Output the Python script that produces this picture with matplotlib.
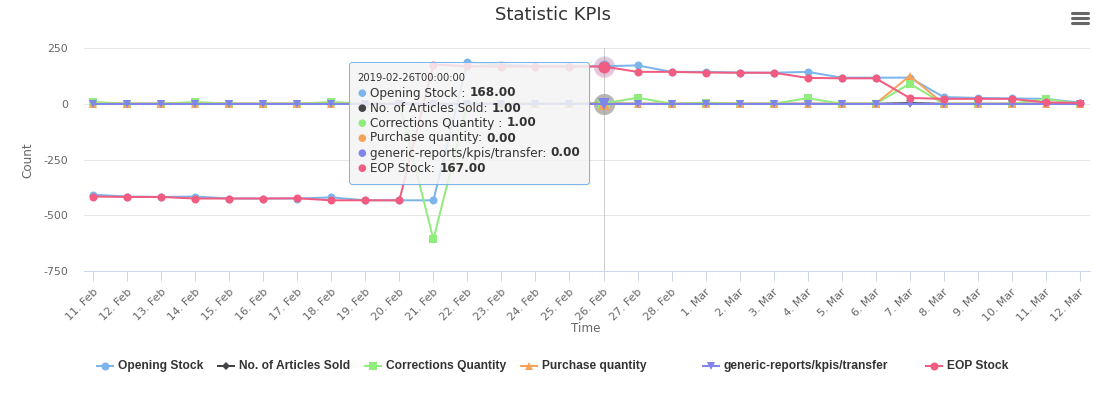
import matplotlib
matplotlib.use("Agg")
import matplotlib.pyplot as plt
from matplotlib.patches import FancyBboxPatch
from matplotlib.transforms import ScaledTranslation
import numpy as np

plt.rcParams['font.family'] = ['DejaVu Sans']
plt.rcParams['axes.unicode_minus'] = False

# ---------------- data ----------------
dates = ["11. Feb", "12. Feb", "13. Feb", "14. Feb", "15. Feb", "16. Feb", "17. Feb",
         "18. Feb", "19. Feb", "20. Feb", "21. Feb", "22. Feb", "23. Feb", "24. Feb",
         "25. Feb", "26. Feb", "27. Feb", "28. Feb", "1. Mar", "2. Mar", "3. Mar",
         "4. Mar", "5. Mar", "6. Mar", "7. Mar", "8. Mar", "9. Mar", "10. Mar",
         "11. Mar", "12. Mar"]

opening_stock = [-408, -416, -418, -416, -425, -425, -425, -420, -433, -433,
                 -433, 185, 176, 168, 168, 168, 172, 143, 143, 140,
                 139, 143, 117, 117, 117, 30, 26, 24, 22, 5]
articles_sold = [0, 0, 0, 0, 0, 0, 0, 0, 0, 0,
                 0, 0, 0, 0, 0, 1, 0, 0, 0, 0,
                 0, 0, 0, 0, 3, 0, 0, 0, 0, 0]
corrections = [8, 0, 0, 8, 0, 0, 0, 8, 0, 0,
               -608, 0, 0, 0, 0, 1, 27, 0, 5, 0,
               0, 25, 0, 0, 90, 0, 0, 0, 22, 0]
purchase = [0, 0, 0, 0, 0, 0, 0, 0, 0, 0,
            0, 0, 0, 0, 0, 0, 0, 0, 0, 0,
            0, 0, 0, 0, 125, 0, 0, 0, 0, 0]
transfer = [0] * 30
eop_stock = [-416, -418, -418, -425, -425, -425, -424, -433, -433, -433,
             176, 168, 167, 167, 167, 167, 143, 143, 140, 139,
             139, 116, 114, 114, 26, 22, 22, 22, 6, 4]

series_names = ["Opening Stock", "No. of Articles Sold", "Corrections Quantity",
                "Purchase quantity", "generic-reports/kpis/transfer", "EOP Stock"]
series_values = [opening_stock, articles_sold, corrections, purchase, transfer, eop_stock]
series_colors = ["#7cb5ec", "#434348", "#90ed7d", "#f7a35c", "#8085e9", "#f15c80"]
series_markers = ["o", "D", "s", "^", "v", "o"]

y_ticks = [-750, -500, -250, 0, 250]
y_tick_labels = ["-750", "-500", "-250", "0", "250"]

hover_index = 15
tooltip_header = "2019-02-26T00:00:00"
tooltip_labels = ["Opening Stock : ", "No. of Articles Sold: ", "Corrections Quantity : ",
                  "Purchase quantity: ", "generic-reports/kpis/transfer: ", "EOP Stock: "]
tooltip_values = ["168.00", "1.00", "1.00", "0.00", "0.00", "167.00"]

# ---------------- figure ----------------
W, H = 1100, 396
fig = plt.figure(figsize=(W / 100, H / 100), dpi=100)
fig.patch.set_facecolor("white")

L, R, T, B = 84, 1090, 48, 271
ax = fig.add_axes([L / W, 1 - B / H, (R - L) / W, (B - T) / H])
ax.set_facecolor("none")

x = np.arange(len(dates))
PX = 0.72  # points per pixel

def msize(marker, px):
    if marker == "D":
        return px * PX / 1.414
    return px * PX

for i, (name, vals, col, mk) in enumerate(zip(series_names, series_values,
                                               series_colors, series_markers)):
    ax.plot(x, vals, color=col, lw=2 * PX, marker=mk, ms=msize(mk, 8),
            markeredgewidth=0, zorder=3 + i, solid_joinstyle="round")

# hover state at 26 Feb: halos + enlarged markers
for vals, col in zip(series_values, series_colors):
    ax.plot([x[hover_index]], [vals[hover_index]], marker="o", ms=21 * PX,
            color=col, alpha=0.25, markeredgewidth=0, zorder=2.5)
for i, (vals, col, mk) in enumerate(zip(series_values, series_colors, series_markers)):
    ax.plot([x[hover_index]], [vals[hover_index]], marker=mk, ms=msize(mk, 12),
            color=col, markeredgewidth=0, zorder=3 + i + 0.5)

ax.axvline(x[hover_index], color="#cccccc", lw=PX, zorder=1.5)

ax.set_xlim(-0.27, 29.3)
ax.set_ylim(-750, 250)
ax.set_yticks(y_ticks)
ax.set_yticklabels(y_tick_labels)
ax.grid(axis="y", color="#e6e6e6", lw=PX)
ax.set_axisbelow(True)
for s in ["left", "right", "top"]:
    ax.spines[s].set_visible(False)
ax.spines["bottom"].set_color("#ccd6eb")
ax.spines["bottom"].set_linewidth(PX)
ax.spines["bottom"].set_zorder(1)

ax.set_xticks(x)
ax.set_xticklabels(dates, rotation=45, ha="right", va="center", rotation_mode="anchor")
ax.tick_params(axis="x", length=10 * PX, width=PX, color="#ccd6eb", pad=7,
               labelsize=11 * PX, labelcolor="#666666")
ax.tick_params(axis="y", length=0, pad=16 * PX, labelsize=11 * PX, labelcolor="#666666")
for lbl in ax.get_xticklabels():
    lbl.set_transform(lbl.get_transform() + ScaledTranslation(3 / 100, 0, fig.dpi_scale_trans))

# ---------------- overlay in pixel coordinates ----------------
ov = fig.add_axes([0, 0, 1, 1], zorder=10)
ov.set_xlim(0, W)
ov.set_ylim(H, 0)
ov.axis("off")
ov.patch.set_alpha(0)

ov.text(553, 15, "Statistic KPIs", ha="center", va="center", fontsize=18 * PX, color="#333333")
ov.text(28, 160, "Count", ha="center", va="center", rotation=90, fontsize=12 * PX, color="#666666")
ov.text(586, 329, "Time", ha="center", va="center", fontsize=12 * PX, color="#666666")

# hamburger menu
for yy in (12.5, 17.5, 22.5):
    ov.plot([1072, 1088], [yy, yy], color="#666666", lw=2.2, solid_capstyle="round")

# legend
leg_line_x = [97, 218, 365, 521, 703, 926]
leg_y = 366
for lx, name, col, mk in zip(leg_line_x, series_names, series_colors, series_markers):
    ov.plot([lx, lx + 16], [leg_y, leg_y], color=col, lw=2 * PX)
    ov.plot([lx + 8], [leg_y], marker=mk, ms=msize(mk, 8), color=col, markeredgewidth=0)
    ov.text(lx + 21, leg_y, name, ha="left", va="center", fontsize=12 * PX,
            fontweight="bold", color="#333333", family=["Liberation Sans", "DejaVu Sans"])

# tooltip
tt_x0, tt_y0, tt_x1, tt_y1 = 349.5, 62.5, 589.5, 184.5
shadow = FancyBboxPatch((tt_x0 + 1, tt_y0 + 1), tt_x1 - tt_x0, tt_y1 - tt_y0,
                        boxstyle="round,pad=0,rounding_size=3", fc="black", ec="none",
                        alpha=0.08)
ov.add_patch(shadow)
box = FancyBboxPatch((tt_x0, tt_y0), tt_x1 - tt_x0, tt_y1 - tt_y0,
                     boxstyle="round,pad=0,rounding_size=3",
                     fc=(247 / 255, 247 / 255, 247 / 255, 0.85), ec="#7cb5ec", lw=PX)
ov.add_patch(box)
ov.text(357.5, 78, tooltip_header, ha="left", va="center", fontsize=10 * PX, color="#333333")
row_y = [93, 108, 123, 138, 153, 168]
for ry, lab, val, col in zip(row_y, tooltip_labels, tooltip_values, series_colors):
    ov.text(357.5, ry, "\u25CF", ha="left", va="center", fontsize=10 * PX, color=col)
    t = ov.text(370.5, ry, lab, ha="left", va="center", fontsize=12 * PX, color="#333333")
    ov.annotate(val, xy=(1, 0.5), xycoords=t, ha="left", va="center",
                fontsize=12 * PX, fontweight="bold", color="#333333")

fig.savefig("out.png", dpi=100, facecolor="white")
